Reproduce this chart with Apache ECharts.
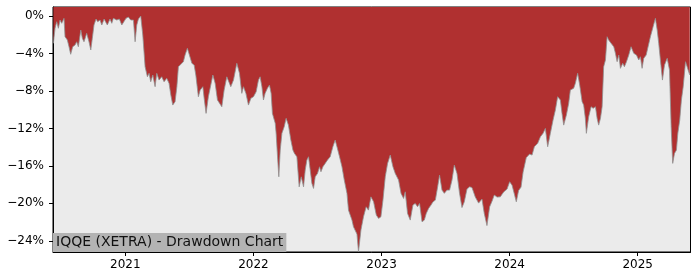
<!DOCTYPE html>
<html>
<head>
<meta charset="utf-8">
<script src="https://cdn.jsdelivr.net/npm/echarts@6/dist/echarts.min.js"></script>
<style>
html,body{margin:0;padding:0;background:#fff;}
#chart{width:700px;height:280px;}
</style>
</head>
<body>
<div id="chart"></div>
<script>
// Time in decimal years, drawdown in percent
const years = [
2020.438,2020.451,2020.464,2020.477,2020.490,2020.503,2020.521,2020.529,2020.547,2020.560,
2020.573,2020.589,2020.607,2020.620,2020.633,2020.652,2020.664,2020.677,2020.698,2020.716,
2020.730,2020.742,2020.755,2020.771,2020.784,2020.802,2020.816,2020.834,2020.849,2020.859,
2020.880,2020.894,2020.906,2020.933,2020.953,2020.972,2020.984,2021.005,2021.023,2021.042,
2021.063,2021.076,2021.089,2021.102,2021.120,2021.136,2021.154,2021.172,2021.185,2021.198,
2021.214,2021.232,2021.245,2021.263,2021.284,2021.302,2021.323,2021.341,2021.355,2021.370,
2021.388,2021.402,2021.414,2021.433,2021.453,2021.466,2021.484,2021.500,2021.519,2021.537,
2021.550,2021.570,2021.584,2021.605,2021.615,2021.630,2021.648,2021.683,2021.701,2021.719,
2021.734,2021.753,2021.771,2021.792,2021.805,2021.823,2021.844,2021.870,2021.891,2021.909,
2021.922,2021.941,2021.961,2021.980,2022.000,2022.021,2022.039,2022.052,2022.066,2022.078,
2022.091,2022.109,2022.125,2022.138,2022.148,2022.170,2022.177,2022.188,2022.198,2022.209,
2022.222,2022.240,2022.255,2022.273,2022.292,2022.308,2022.320,2022.339,2022.357,2022.373,
2022.391,2022.404,2022.417,2022.430,2022.443,2022.456,2022.469,2022.482,2022.500,2022.516,
2022.527,2022.542,2022.560,2022.578,2022.599,2022.620,2022.638,2022.652,2022.672,2022.691,
2022.709,2022.730,2022.742,2022.755,2022.769,2022.781,2022.808,2022.820,2022.839,2022.859,
2022.880,2022.898,2022.917,2022.938,2022.959,2022.977,2022.995,2023.011,2023.029,2023.047,
2023.068,2023.089,2023.107,2023.133,2023.152,2023.172,2023.185,2023.203,2023.224,2023.245,
2023.263,2023.281,2023.297,2023.316,2023.334,2023.349,2023.367,2023.386,2023.402,2023.420,
2023.438,2023.453,2023.472,2023.490,2023.511,2023.531,2023.550,2023.568,2023.589,2023.609,
2023.628,2023.646,2023.667,2023.688,2023.706,2023.732,2023.758,2023.784,2023.802,2023.823,
2023.844,2023.863,2023.880,2023.902,2023.927,2023.953,2023.980,2024.000,2024.019,2024.037,
2024.052,2024.070,2024.089,2024.105,2024.130,2024.156,2024.175,2024.193,2024.219,2024.240,
2024.261,2024.279,2024.297,2024.318,2024.339,2024.357,2024.375,2024.396,2024.409,2024.422,
2024.443,2024.461,2024.474,2024.500,2024.513,2024.531,2024.547,2024.566,2024.578,2024.591,
2024.599,2024.617,2024.636,2024.652,2024.670,2024.683,2024.695,2024.709,2024.722,2024.734,
2024.748,2024.761,2024.773,2024.792,2024.813,2024.826,2024.839,2024.852,2024.865,2024.883,
2024.896,2024.912,2024.930,2024.948,2024.969,2024.990,2025.008,2025.021,2025.034,2025.047,
2025.066,2025.078,2025.099,2025.120,2025.138,2025.152,2025.164,2025.177,2025.193,2025.209,
2025.230,2025.248,2025.261,2025.273,2025.287,2025.302,2025.313,2025.328,2025.341,2025.355,
2025.373,2025.386,2025.406
];
const drawdown = [
-2.92,-1.31,-0.61,-1.31,-0.43,-0.78,-0.25,-2.21,-2.56,-3.28,
-4.09,-3.28,-3.10,-2.75,-3.28,-1.50,-2.38,-2.75,-1.85,-2.75,
-3.63,-2.38,-0.96,-0.32,-0.61,-0.43,-0.96,-0.32,-0.25,-0.96,
-0.32,-0.78,-0.25,-0.43,-0.32,-0.96,-0.89,-0.25,-0.11,-0.43,
-0.43,-2.75,-0.96,-0.32,0.00,-2.03,-5.42,-6.49,-6.12,-7.02,
-6.30,-7.55,-6.12,-6.84,-6.49,-7.02,-6.66,-7.19,-8.44,-9.51,
-9.16,-7.55,-5.42,-5.16,-4.88,-4.17,-3.45,-4.17,-5.05,-5.24,
-6.30,-8.62,-7.91,-7.55,-8.79,-10.40,-8.62,-6.30,-7.19,-8.97,
-8.79,-9.69,-7.91,-6.49,-6.30,-7.55,-6.84,-5.05,-6.12,-8.26,
-7.55,-8.26,-9.51,-8.79,-8.62,-8.09,-6.84,-6.49,-7.55,-8.97,
-8.26,-7.72,-7.37,-8.26,-10.40,-11.46,-12.53,-15.03,-17.17,-14.32,
-12.53,-11.83,-10.93,-11.65,-13.25,-14.32,-14.67,-15.03,-18.24,-17.17,
-18.24,-16.45,-15.38,-15.03,-16.45,-17.87,-18.41,-17.17,-16.81,-16.10,
-16.63,-16.10,-15.74,-15.38,-15.03,-13.96,-13.25,-13.96,-15.03,-16.10,
-17.52,-18.94,-20.73,-20.83,-21.79,-22.51,-23.29,-25.18,-22.86,-21.44,
-20.37,-20.73,-19.31,-19.84,-21.26,-21.61,-21.44,-19.66,-17.17,-15.74,
-14.85,-16.10,-16.81,-17.52,-18.94,-19.48,-18.77,-21.08,-21.79,-20.19,
-20.01,-20.37,-20.01,-21.98,-21.79,-21.08,-20.55,-20.19,-19.84,-19.66,
-18.24,-16.99,-18.59,-18.94,-18.59,-18.59,-17.52,-15.92,-16.81,-18.94,
-20.46,-19.84,-18.48,-18.24,-18.32,-19.34,-19.98,-19.55,-21.08,-22.38,
-20.37,-19.76,-19.12,-19.34,-19.31,-18.80,-18.48,-17.70,-18.06,-19.02,
-19.84,-18.64,-18.27,-16.67,-15.12,-14.74,-14.85,-13.96,-13.60,-12.90,
-12.53,-12.00,-13.96,-12.53,-11.11,-10.04,-8.62,-8.97,-10.40,-11.65,
-10.58,-9.33,-7.91,-7.72,-7.19,-6.12,-7.37,-9.16,-9.51,-10.93,
-12.53,-10.76,-9.69,-9.86,-9.69,-10.93,-11.65,-10.93,-9.69,-5.42,
-4.70,-2.21,-2.56,-2.92,-3.28,-3.99,-4.88,-4.17,-5.59,-5.05,
-5.42,-4.88,-4.17,-3.28,-3.99,-4.17,-4.70,-4.35,-5.59,-4.52,
-4.17,-3.45,-2.21,-1.14,-0.25,-1.50,-2.92,-4.70,-6.84,-5.24,
-4.52,-5.77,-11.83,-15.74,-14.67,-14.32,-12.53,-11.11,-8.97,-7.55,
-4.88,-5.05,-6.30
];
const yTicks = [0, -4, -8, -12, -16, -20, -24];
const xTicks = [2021, 2022, 2023, 2024, 2025];
const titleText = 'IQQE (XETRA) - Drawdown Chart';

const seriesData = years.map((t, i) => [t, drawdown[i]]);
const font = 'DejaVu Sans';

const chart = echarts.init(document.getElementById('chart'), null, {renderer: 'canvas'});
chart.setOption({
  animation: false,
  grid: {
    left: 53, right: 9.5, top: 7, bottom: 28,
    show: true, backgroundColor: '#ebebeb', borderColor: '#000', borderWidth: 1
  },
  title: {
    text: titleText,
    left: 53, top: 233,
    backgroundColor: '#b3b3b3',
    padding: [2, 3, 2, 3],
    textStyle: {fontFamily: font, fontSize: 14, fontWeight: 'normal', color: '#111', lineHeight: 15}
  },
  xAxis: {
    type: 'value',
    min: 2020.435, max: 2025.412,
    splitLine: {show: false},
    axisLine: {show: true, onZero: false, lineStyle: {color: '#000', width: 1}},
    axisTick: {show: true, length: 4, lineStyle: {color: '#000'}, customValues: xTicks},
    axisLabel: {
      customValues: xTicks, margin: 7,
      fontFamily: font, fontSize: 12, color: '#000',
      formatter: v => String(Math.round(v))
    }
  },
  yAxis: {
    type: 'value',
    min: -25.2, max: 0.96,
    splitLine: {show: false},
    axisLine: {show: true, lineStyle: {color: '#000', width: 1}},
    axisTick: {show: true, length: 4, lineStyle: {color: '#000'}, customValues: yTicks},
    axisLabel: {
      customValues: yTicks, margin: 9,
      fontFamily: font, fontSize: 12, color: '#000',
      formatter: v => (v < 0 ? '\u2212' + Math.abs(v) : String(v)) + '%'
    }
  },
  series: [{
    type: 'line',
    data: seriesData,
    showSymbol: false,
    symbol: 'none',
    lineStyle: {color: '#909090', width: 0.8},
    areaStyle: {color: '#b03030', opacity: 1, origin: 'end'},
    z: 2
  }]
});
</script>
</body>
</html>
